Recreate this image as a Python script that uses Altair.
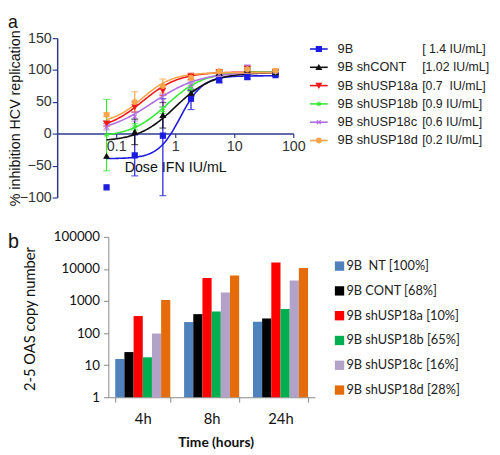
import altair as alt
import numpy as np
import pandas as pd

# ---------------- panel a data ----------------
series_a = ["9B", "9B shCONT", "9B shUSP18a", "9B shUSP18b", "9B shUSP18c", "9B shUSP18d"]
ic50_a = ["[ 1.4 IU/mL]", "[1.02 IU/mL]", "[0.7\u00a0 IU/mL]", "[0.9 IU/mL]", "[0.6 IU/mL]", "[0.2 IU/mL]"]
doses = [0.0686, 0.206, 0.617, 1.85, 5.56, 16.67, 50.0]

mean_9b = [-84, -34, -3, 55, 84, 89, 92]
mean_cont = [-35, 3, 29, 64, 95, 100, 96]
mean_a18 = [16, 42, 68, 90, 97, 103, 97]
mean_b18 = [-2, 11, 37, 71, 97, 102, 97]
mean_c18 = [11, 27, 52, 76, 93, 105, 97]
mean_d18 = [30, 50, 75, 88, 98, 101, 99]

# error bars (upper / lower extent)
err_9b_up = [0, 32, 58, 13, 4, 3, 2]
err_9b_down = [0, 32, 94, 17, 4, 3, 2]
err_cont = [0, 20, 20, 5, 3, 3, 3]
err_a18 = [4, 8, 8, 5, 3, 3, 3]
err_b18 = [56, 5, 5, 5, 3, 3, 3]
err_c18 = [5, 7, 10, 5, 3, 3, 3]
err_d18 = [3, 16, 11, 5, 3, 3, 3]

# fitted dose-response curve parameters
fit_bottom = [-39, -12, 5, -5, 0, 15]
fit_top = [91, 96, 97, 97.5, 97, 96]
fit_ec50 = [1.22, 1.0, 0.28, 0.73, 0.41, 0.275]
fit_hill = [2.3, 1.4, 1.4, 1.4, 1.08, 1.67]

colors_a = ["#1c1ce0", "#111111", "#f01818", "#38e838", "#b06ee0", "#f9a54a"]
ASTER = "M0,-1L0,1M-0.87,-0.5L0.87,0.5M-0.87,0.5L0.87,-0.5"
XMARK = "M-0.8,-0.8L0.8,0.8M-0.8,0.8L0.8,-0.8"
shapes_a = ["square", "triangle-up", "triangle-down", ASTER, XMARK, "circle"]
sizes_a = [26, 24, 24, 50, 36, 60]

# ---------------- panel b data ----------------
times = ["4h", "8h", "24h"]
series_b = ["9B\u00a0 NT", "9B CONT", "9B shUSP18a", "9B shUSP18b", "9B shUSP18c", "9B shUSP18d"]
pct_b = ["[100%]", "[68%]", "[10%]", "[65%]", "[16%]", "[28%]"]
oas_nt = [15.6, 221, 225]
oas_cont = [25.6, 390, 286]
oas_a18 = [340, 5260, 15800]
oas_b18 = [17.6, 470, 565]
oas_c18 = [97, 1830, 4360]
oas_d18 = [1070, 6200, 10700]
colors_b = ["#4f81bd", "#000000", "#ff0000", "#00b050", "#b3a2c7", "#e46c0a"]

# ---------------- tables ----------------
means = [mean_9b, mean_cont, mean_a18, mean_b18, mean_c18, mean_d18]
errs_up = [err_9b_up, err_cont, err_a18, err_b18, err_c18, err_d18]
errs_down = [err_9b_down, err_cont, err_a18, err_b18, err_c18, err_d18]
rows = []
for s, m, eu, ed in zip(series_a, means, errs_up, errs_down):
    for d, mv, u, dn in zip(doses, m, eu, ed):
        rows.append({"series": s, "dose": d, "mean": mv, "err": max(u, dn),
                     "lo": mv - dn, "hi": mv + u})
df_pts = pd.DataFrame(rows)
df_err = df_pts[df_pts["err"] > 0]

crows = []
grid = np.logspace(np.log10(doses[0]), np.log10(doses[-1]), 160)
for s, b, t, c, h in zip(series_a, fit_bottom, fit_top, fit_ec50, fit_hill):
    for x in grid:
        crows.append({"series": s, "dose": float(x), "resp": float(b + (t - b) / (1 + (c / x) ** h))})
df_curve = pd.DataFrame(crows)

df_legA = pd.DataFrame({"series": series_a, "name": series_a, "ic50": ic50_a, "idx": list(range(6))})

oas = [oas_nt, oas_cont, oas_a18, oas_b18, oas_c18, oas_d18]
brows = []
for s, vals in zip(series_b, oas):
    for t, v in zip(times, vals):
        brows.append({"series": s, "time": t, "value": v})
df_bar = pd.DataFrame(brows)
df_legB = pd.DataFrame({"series": series_b, "label": [f"{s} {p}" for s, p in zip(series_b, pct_b)],
                        "idx": list(range(6))})

# ---------------- layout / style ----------------
W, H = 492, 445
FA = "Liberation Sans"
FB = "Lato"
NAVY = "#2e3b8e"

xA = alt.Scale(type="log", domain=[0.01, 100], range=[50, 290], nice=False)
yA = alt.Scale(domain=[-100, 150], range=[189, 27], nice=False, zero=False)
colA = alt.Scale(domain=series_a, range=colors_a)
shpA = alt.Scale(domain=series_a, range=shapes_a)
szA = alt.Scale(domain=series_a, range=sizes_a)

axA_x = alt.Axis(orient="bottom", offset=124 - H, values=[0.1, 1, 10, 100], format="~g",
                 grid=False, domainColor=NAVY, tickColor=NAVY, domainWidth=1.5, tickWidth=1.2,
                 tickSize=4, labelPadding=2, labelFont=FA, labelFontSize=14.5, labelColor="#333",
                 labelFlush=False, labelOverlap=False,
                 title="Dose IFN IU/mL", titleFont=FA, titleFontSize=14.5, titleFontWeight="normal",
                 titleColor="#111", titleX=170, titleY=35, titleBaseline="middle", titleAlign="center")
axA_y = alt.Axis(orient="left", offset=-50, values=[-100, -50, 0, 50, 100, 150],
                 grid=False, domainColor=NAVY, tickColor=NAVY, domainWidth=1.5, tickWidth=1.2,
                 tickSize=5, labelPadding=1, labelFont=FA, labelFontSize=14.5, labelColor="#333",
                 labelFlush=False, labelOverlap=False,
                 title="% inhibition HCV replication", titleFont=FA, titleFontSize=14.5,
                 titleFontWeight="normal", titleColor="#111", titleX=-42, titleY=108,
                 titleBaseline="middle", titleAlign="center")

ex = alt.X("dose:Q", scale=xA, axis=axA_x)

err_rule = alt.Chart(df_err).mark_rule(strokeWidth=1.2).encode(
    x=ex, y=alt.Y("lo:Q", scale=yA, axis=axA_y), y2="hi:Q",
    color=alt.Color("series:N", scale=colA, legend=None))
cap_lo = alt.Chart(df_err).mark_tick(orient="horizontal", size=7, thickness=1.2).encode(
    x=ex, y=alt.Y("lo:Q", scale=yA, axis=axA_y),
    color=alt.Color("series:N", scale=colA, legend=None))
cap_hi = alt.Chart(df_err).mark_tick(orient="horizontal", size=7, thickness=1.2).encode(
    x=ex, y=alt.Y("hi:Q", scale=yA, axis=axA_y),
    color=alt.Color("series:N", scale=colA, legend=None))
curves = alt.Chart(df_curve).mark_line(strokeWidth=1.6).encode(
    x=ex, y=alt.Y("resp:Q", scale=yA, axis=axA_y),
    color=alt.Color("series:N", scale=colA, legend=None))
points = alt.Chart(df_pts).mark_point(filled=True, opacity=1, strokeWidth=1.2).encode(
    x=ex, y=alt.Y("mean:Q", scale=yA, axis=axA_y),
    fill=alt.Fill("series:N", scale=colA, legend=None),
    stroke=alt.Stroke("series:N", scale=colA, legend=None),
    shape=alt.Shape("series:N", scale=shpA, legend=None),
    size=alt.Size("series:N", scale=szA, legend=None))
panelA = alt.layer(err_rule, cap_lo, cap_hi, curves, points)

# legend a
legAy = alt.Y("idx:Q", scale=alt.Scale(domain=[0, 5], range=[38, 131], nice=False, zero=False), axis=None)
legA = alt.layer(
    alt.Chart(df_legA).mark_rule(strokeWidth=1.6).encode(
        x=alt.value(307), x2=alt.value(325), y=legAy,
        color=alt.Color("series:N", scale=colA, legend=None)),
    alt.Chart(df_legA).mark_point(filled=True, opacity=1, strokeWidth=1.2).encode(
        x=alt.value(316), y=legAy,
        fill=alt.Fill("series:N", scale=colA, legend=None),
        stroke=alt.Stroke("series:N", scale=colA, legend=None),
        shape=alt.Shape("series:N", scale=shpA, legend=None),
        size=alt.Size("series:N", scale=szA, legend=None)),
    alt.Chart(df_legA).mark_text(align="left", baseline="middle", font=FA, fontSize=13, color="#222").encode(
        x=alt.value(335), y=legAy, text="name:N"),
    alt.Chart(df_legA).mark_text(align="left", baseline="middle", font=FA, fontSize=12.5, color="#222").encode(
        x=alt.value(421), y=legAy, text="ic50:N"),
)

# panel b
xB = alt.Scale(domain=times, range=[102, 312], paddingInner=0.2, paddingOuter=0.1)
yB = alt.Scale(type="log", domain=[1, 100000], range=[392, 229], nice=False)
colB = alt.Scale(domain=series_b, range=colors_b)
axB_x = alt.Axis(orient="bottom", offset=392 - H, tickBand="extent", grid=False,
                 domainColor="#888", tickColor="#888", tickSize=5, labelPadding=10,
                 labelFont=FB, labelFontSize=15, labelColor="#111", labelAngle=0,
                 title="Time (hours)", titleFont=FB, titleFontSize=14, titleFontWeight="bold",
                 titleColor="#111", titleX=211, titleY=46, titleBaseline="middle", titleAlign="center")
axB_y = alt.Axis(orient="left", offset=-102, values=[1, 10, 100, 1000, 10000, 100000], format="d",
                 grid=False, domainColor="#888", tickColor="#888", tickSize=5, labelPadding=4,
                 labelFont=FB, labelFontSize=13.5, labelColor="#111", labelFlush=False, labelOverlap=False,
                 title="2-5 OAS copy number", titleFont=FB, titleFontSize=15, titleFontWeight="normal",
                 titleColor="#111", titleX=-80, titleY=312, titleBaseline="middle", titleAlign="center")
panelB = alt.Chart(df_bar).mark_bar().encode(
    x=alt.X("time:N", scale=xB, axis=axB_x, sort=times),
    xOffset=alt.XOffset("series:N", scale=alt.Scale(domain=series_b, paddingInner=0, paddingOuter=0)),
    y=alt.Y("value:Q", scale=yB, axis=axB_y),
    y2=alt.datum(1),
    color=alt.Color("series:N", scale=colB, legend=None))

legBy = alt.Y("idx:Q", scale=alt.Scale(domain=[0, 5], range=[258.7, 384.7], nice=False, zero=False), axis=None)
legB = alt.layer(
    alt.Chart(df_legB).mark_point(shape="square", filled=True, opacity=1, size=90).encode(
        x=alt.value(337), y=legBy, color=alt.Color("series:N", scale=colB, legend=None)),
    alt.Chart(df_legB).mark_text(align="left", baseline="middle", font=FB, fontSize=13, color="#222").encode(
        x=alt.value(344), y=legBy, text="label:N"),
)

letter_a = alt.Chart(alt.Data(values=[{"t": "a"}])).mark_text(
    align="left", baseline="alphabetic", font=FA, fontSize=18, color="#111").encode(
    x=alt.value(0), y=alt.value(17), text="t:N")
letter_b = alt.Chart(alt.Data(values=[{"t": "b"}])).mark_text(
    align="left", baseline="alphabetic", font=FA, fontSize=20, color="#111").encode(
    x=alt.value(0), y=alt.value(240), text="t:N")

chart = alt.layer(panelA, panelB, legA, legB, letter_a, letter_b).resolve_scale(
    x="independent", y="independent", color="independent", fill="independent",
    stroke="independent", shape="independent", size="independent"
).resolve_axis(x="independent", y="independent").properties(
    width=W, height=H, padding=0, autosize=alt.AutoSizeParams(type="none")
).configure_view(stroke=None)

chart.save("out.html", embed_options={"renderer": "svg", "actions": False})
